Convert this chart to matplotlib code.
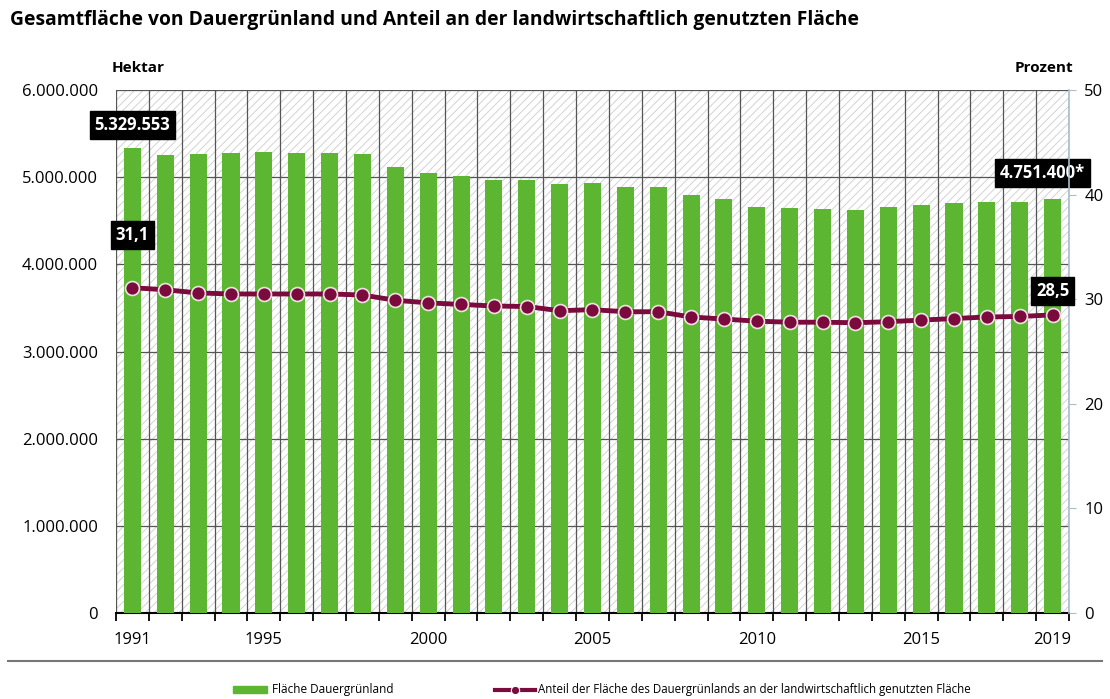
import matplotlib.pyplot as plt
from matplotlib.patches import Rectangle
from matplotlib.lines import Line2D
from matplotlib.ticker import FuncFormatter

plt.rcParams['font.family'] = ['Open Sans', 'DejaVu Sans']
plt.rcParams['hatch.color'] = '#d2d2d2'
plt.rcParams['hatch.linewidth'] = 0.7

years = list(range(1991, 2020))
flaeche = [5329553, 5254000, 5266000, 5277000, 5289000, 5277000, 5277000, 5268000,
           5118000, 5052000, 5016000, 4972000, 4972000, 4920000, 4935000, 4887000,
           4882000, 4795000, 4747000, 4658000, 4646000, 4635000, 4623000, 4655000,
           4681000, 4702000, 4720000, 4720000, 4751400]
anteil = [31.1, 30.9, 30.6, 30.5, 30.5, 30.5, 30.5, 30.4, 29.9, 29.65, 29.5, 29.35,
          29.3, 28.9, 29.0, 28.8, 28.8, 28.3, 28.1, 27.9, 27.8, 27.8, 27.75, 27.85,
          28.0, 28.15, 28.3, 28.35, 28.5]
year_labels = [1991, 1995, 2000, 2005, 2010, 2015, 2019]

green = '#5db632'
maroon = '#7b0a3d'

W, H = 1110, 699
fig = plt.figure(figsize=(11.1, 6.99), dpi=100)
ax = fig.add_axes([116 / W, 1 - 613 / H, (1069 - 116) / W, (613 - 90) / H])
ax2 = ax.twinx()

# hatched background
ax.add_patch(Rectangle((0, 0), 1, 1, transform=ax.transAxes, facecolor='white',
                       hatch='////', edgecolor='#d2d2d2', lw=0, zorder=0))

ax.bar(years, flaeche, width=0.52, color=green, zorder=3)
ax.set_xlim(1990.5, 2019.5)
ax.set_ylim(0, 6000000)
ax.set_yticks(range(0, 6000001, 1000000))
ax.yaxis.set_major_formatter(FuncFormatter(lambda v, p: f"{int(v):,}".replace(',', '.')))
ax.set_xticks(year_labels)
ax.set_xticks([y + 0.5 for y in range(1990, 2020)], minor=True)
ax.tick_params(axis='x', which='major', length=0, pad=14, labelsize=12)
ax.tick_params(axis='x', which='minor', length=6, width=1.3, color='black')
ax.tick_params(axis='y', length=0, labelsize=12, pad=13)
ax.grid(axis='x', which='minor', color='#555555', lw=0.9, zorder=1)
ax.grid(axis='y', which='major', color='#555555', lw=0.9, zorder=1)
ax.set_axisbelow(True)
for s in ['left', 'top', 'right']:
    ax.spines[s].set_visible(False)
ax.spines['bottom'].set_linewidth(1.5)

ax2.plot(years, anteil, color=maroon, lw=3.5, marker='o', ms=10,
         markerfacecolor=maroon, markeredgecolor='#f0e0e6', markeredgewidth=1.2, zorder=5)
ax2.set_ylim(0, 50)
ax2.set_yticks(range(0, 51, 10))
ax2.tick_params(axis='y', length=5, color='#a9bccd', labelsize=12, pad=6)
for s in ['left', 'top', 'bottom']:
    ax2.spines[s].set_visible(False)
ax2.spines['right'].set_color('#a9bccd')
ax2.spines['right'].set_linewidth(1.2)

box = dict(boxstyle='square,pad=0.3', facecolor='black', edgecolor='black')
ax.text(1991, 5600000, f"{flaeche[0]:,}".replace(',', '.'), color='white', fontsize=12,
        fontweight='bold', ha='center', va='center', bbox=box, zorder=6)
ax.text(2018.7, 5050000, "4.751.400*", color='white', fontsize=12,
        fontweight='bold', ha='center', va='center', bbox=box, zorder=6)
ax2.text(1991, 36.1, "31,1", color='white', fontsize=12, fontweight='bold',
         ha='center', va='center', bbox=box, zorder=6)
ax2.text(2019, 30.8, "28,5", color='white', fontsize=12, fontweight='bold',
         ha='center', va='center', bbox=box, zorder=6)

fig.text(10 / W, 1 - 20 / H, "Gesamtfläche von Dauergrünland und Anteil an der landwirtschaftlich genutzten Fläche",
         fontsize=13.9, fontweight='bold', va='center', ha='left')
fig.text(112 / W, 1 - 68 / H, "Hektar", fontsize=11, fontweight='bold', va='center', ha='left')
fig.text(1073 / W, 1 - 68 / H, "Prozent", fontsize=11, fontweight='bold', va='center', ha='right')

fig.add_artist(Line2D([8 / W, 1102 / W], [1 - 661 / H] * 2, color='#777777', lw=1.5))

# legend
ly = 1 - 690 / H
fig.add_artist(Rectangle((233 / W, 1 - 693 / H), 34 / W, 7 / H, color=green, transform=fig.transFigure))
fig.text(272 / W, ly, "Fläche Dauergrünland", fontsize=8.5, va='center', ha='left')
fig.add_artist(Line2D([495 / W, 535 / W], [ly, ly], color=maroon, lw=3, transform=fig.transFigure))
fig.add_artist(Line2D([515 / W], [ly], color=maroon, marker='o', ms=6, markerfacecolor=maroon,
                      markeredgecolor='white', markeredgewidth=0.8, transform=fig.transFigure))
fig.text(538 / W, ly, "Anteil der Fläche des Dauergrünlands an der landwirtschaftlich genutzten Fläche",
         fontsize=8.3, va='center', ha='left')

fig.savefig('out.png', dpi=100)
